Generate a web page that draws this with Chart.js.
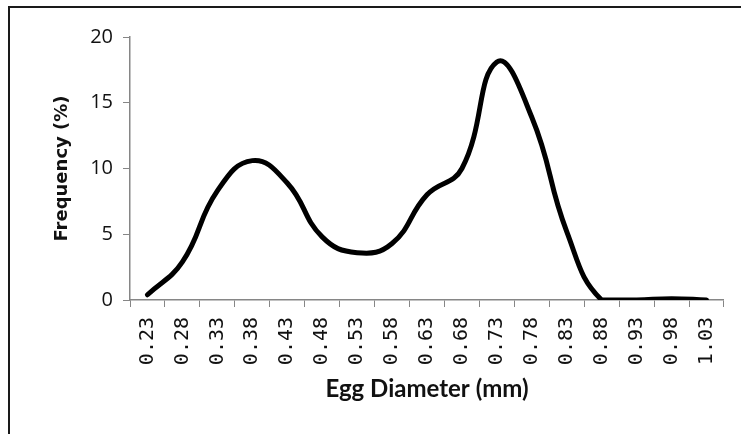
<!DOCTYPE html>
<html>
<head>
<meta charset="utf-8">
<script src="https://cdn.jsdelivr.net/npm/chart.js@4/dist/chart.umd.min.js"></script>
<style>
    html, body { margin: 0; padding: 0; background: #fff; }
    #wrap { position: relative; width: 741px; height: 434px; }
    #frame {
        position: absolute; left: 8px; top: 6px; right: -4px; bottom: -4px;
        border-left: 2px solid #1a1a1a; border-top: 2px solid #1a1a1a;
        pointer-events: none;
    }
</style>
</head>
<body>
<div id="wrap">
    <canvas id="eggChart" width="741" height="434"></canvas>
    <div id="frame"></div>
</div>
<script>
// Egg diameter classes (mm)
const diameters = ['0.23', '0.28', '0.33', '0.38', '0.43', '0.48', '0.53', '0.58', '0.63',
                   '0.68', '0.73', '0.78', '0.83', '0.88', '0.93', '0.98', '1.03'];
// Frequency (%) per class
const frequency = [0.4, 2.9, 8.3, 10.6, 8.9, 4.8, 3.6, 4.3, 8.0,
                   10.0, 18.1, 13.9, 5.2, 0, 0, 0.1, 0];
const yTicks = [0, 5, 10, 15, 20];

const axisColor = '#868686';
const textColor = '#111';

const ctx = document.getElementById('eggChart').getContext('2d');
new Chart(ctx, {
    type: 'line',
    data: {
        labels: diameters,
        datasets: [{
            data: frequency,
            borderColor: '#000',
            borderWidth: 5,
            borderCapStyle: 'round',
            borderJoinStyle: 'round',
            pointRadius: 0,
            tension: 0.45,
            fill: false
        }]
    },
    options: {
        responsive: false,
        animation: false,
        layout: { padding: { left: 48, top: 37, right: 17, bottom: 26 } },
        plugins: { legend: { display: false }, tooltip: { enabled: false } },
        scales: {
            x: {
                offset: true,
                grid: { display: true, offset: true, drawOnChartArea: false, color: axisColor, tickLength: 7 },
                border: { color: axisColor, width: 1.5 },
                ticks: {
                    minRotation: 90, maxRotation: 90, autoSkip: false, padding: 10,
                    color: textColor,
                    font: { family: "'DejaVu Sans Mono', monospace", size: 20 }
                },
                title: {
                    display: true, text: 'Egg Diameter (mm)', color: textColor,
                    font: { family: 'Lato', size: 24, weight: 'bold' }
                },
                afterFit: function(scale) { scale.height = 108; }
            },
            y: {
                min: 0, max: 20,
                afterBuildTicks: function(scale) {
                    scale.ticks = yTicks.map(v => ({ value: v }));
                },
                grid: { display: true, drawOnChartArea: false, color: axisColor, tickLength: 7 },
                border: { color: axisColor, width: 1.5 },
                ticks: {
                    padding: 10, color: textColor,
                    font: { family: 'Open Sans', size: 20 }
                },
                title: {
                    display: true, text: 'Frequency (%)', color: textColor,
                    font: { family: 'DejaVu Sans', size: 18, weight: 'bold' }
                },
                afterFit: function(scale) { scale.width = 82; }
            }
        }
    }
});
</script>
</body>
</html>
